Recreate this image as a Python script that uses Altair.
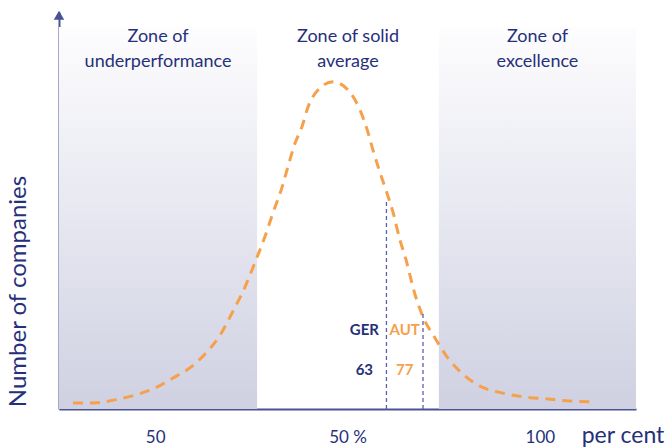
import altair as alt
import pandas as pd

# ---- data ----
curve_x = [2.9, 7.1, 11.6, 15.8, 20.0, 23.7, 27.7, 30.8, 33.5, 36.2, 38.3, 41.2, 42.8, 44.5,
           46.4, 47.6, 49.1, 50.5, 51.8, 53.9, 57.0, 60.5, 62.6, 64.1, 65.3, 66.8, 68.2,
           69.5, 70.9, 72.0, 74.2, 75.7, 78.2, 80.9, 84.0, 88.0, 92.3, 96.9, 101.7, 106.3, 110.4]
curve_y = [1.5, 1.5, 2.3, 3.5, 5.3, 7.8, 10.8, 14.4, 18.6, 24.7, 29.7, 38.3, 43.3, 49.4,
           55.9, 61.0, 67.0, 71.0, 76.1, 80.4, 82.4, 79.8, 75.3, 70.3, 65.2, 59.4, 54.4,
           49.4, 42.6, 38.3, 28.2, 23.2, 17.9, 12.8, 8.8, 5.5, 4.0, 3.0, 2.5, 2.0, 1.8]

zone_start = [0, 79.0]
zone_end = [41.2, 120]
zone_top = [96.2, 96.2]

zone_titles = ["Zone of\nunderperformance", "Zone of solid\naverage", "Zone of\nexcellence"]
zone_title_x = [20.6, 60.1, 99.5]

tick_values = [20, 60, 100]
tick_labels = ["50", "50 %", "100"]

countries = ["GER", "AUT"]
country_values = ["63", "77"]
country_line_x = [68.1, 75.7]
country_line_top = [52.6, 24.4]
country_text_x = [63.5, 71.9]
country_colors = ["#26307a", "#f7a04c"]

NAVY = "#26307a"
AXIS = "#4a5293"
ORANGE = "#f7a04c"
FONT = "Lato"

x_scale = alt.Scale(domain=[0, 120], nice=False, zero=False)
y_scale = alt.Scale(domain=[0, 100], nice=False, zero=False)

label_expr = "{" + ",".join(f"'{v}':'{l}'" for v, l in zip(tick_values, tick_labels)) + "}[datum.value]"

curve_df = pd.DataFrame({"x": curve_x, "y": curve_y})
zones_df = pd.DataFrame({"x": zone_start, "x2": zone_end, "y": [0, 0], "y2": zone_top})
titles_df = pd.DataFrame({"x": zone_title_x, "t": zone_titles})
lines_df = pd.DataFrame({"x": country_line_x, "y": [0, 0], "y2": country_line_top})
ctext_df = pd.DataFrame({"x": country_text_x, "name": countries, "val": country_values,
                         "c": country_colors})

grad = alt.Gradient(gradient="linear", x1=0, y1=0, x2=0, y2=1,
                    stops=[alt.GradientStop(color="#fdfdfe", offset=0),
                           alt.GradientStop(color="#cfd1e2", offset=1)])

zones = alt.Chart(zones_df).mark_rect(color=grad).encode(
    x=alt.X("x:Q", scale=x_scale,
            axis=alt.Axis(values=tick_values, labelExpr=label_expr, title=None, grid=False,
                          ticks=False, domainColor=AXIS, domainWidth=2, labelColor=NAVY,
                          labelFont=FONT, labelFontSize=17, labelPadding=20)),
    x2="x2:Q",
    y=alt.Y("y:Q", scale=y_scale,
            axis=alt.Axis(title="Number of companies", labels=False, ticks=False, grid=False,
                          domainColor=AXIS, domainWidth=2, titleColor=NAVY, titleFont=FONT,
                          titleFontSize=24, titleFontWeight="normal", titleX=-41, titleY=279,
                          titleAngle=270, titleAlign="center", titleBaseline="middle")),
    y2="y2:Q",
)

curve = alt.Chart(curve_df).mark_line(color=ORANGE, strokeWidth=3, strokeDash=[10, 7],
                                      interpolate="monotone").encode(
    x=alt.X("x:Q", scale=x_scale), y=alt.Y("y:Q", scale=y_scale))

rules = alt.Chart(lines_df).mark_rule(color="#5b60a8", strokeWidth=1.3, strokeDash=[4, 3]).encode(
    x=alt.X("x:Q", scale=x_scale), y=alt.Y("y:Q", scale=y_scale), y2="y2:Q")

titles = alt.Chart(titles_df).mark_text(font=FONT, fontSize=18, color=NAVY, lineBreak="\n",
                                        lineHeight=25, baseline="alphabetic", align="center").encode(
    x=alt.X("x:Q", scale=x_scale), y=alt.value(30), text="t:N")

names = alt.Chart(ctext_df).mark_text(font=FONT, fontSize=15, fontWeight="bold",
                                      baseline="middle", align="center").encode(
    x=alt.X("x:Q", scale=x_scale), y=alt.value(318), text="name:N",
    color=alt.Color("c:N", scale=None))

vals = alt.Chart(ctext_df).mark_text(font=FONT, fontSize=15, fontWeight="bold",
                                     baseline="middle", align="center").encode(
    x=alt.X("x:Q", scale=x_scale), y=alt.value(358), text="val:N",
    color=alt.Color("c:N", scale=None))

arrow = alt.Chart(pd.DataFrame({"x": [0], "y": [99.2]})).mark_point(
    shape="triangle-up", filled=True, size=110, color=AXIS, opacity=1).encode(
    x=alt.X("x:Q", scale=x_scale), y=alt.Y("y:Q", scale=y_scale))

unit = alt.Chart(pd.DataFrame({"x": [117.3], "t": ["per cent"]})).mark_text(
    font=FONT, fontSize=23, color=NAVY, align="center", baseline="middle").encode(
    x=alt.X("x:Q", scale=x_scale), y=alt.value(424), text="t:N")

chart = alt.layer(zones, curve, rules, titles, names, vals, arrow, unit).properties(
    width=577, height=397,
    autosize=alt.AutoSizeParams(type="none"),
    padding={"left": 59, "top": 12, "right": 36, "bottom": 39},
).configure_view(stroke=None)

chart.save("out.html", embed_options={"renderer": "svg", "actions": False})
